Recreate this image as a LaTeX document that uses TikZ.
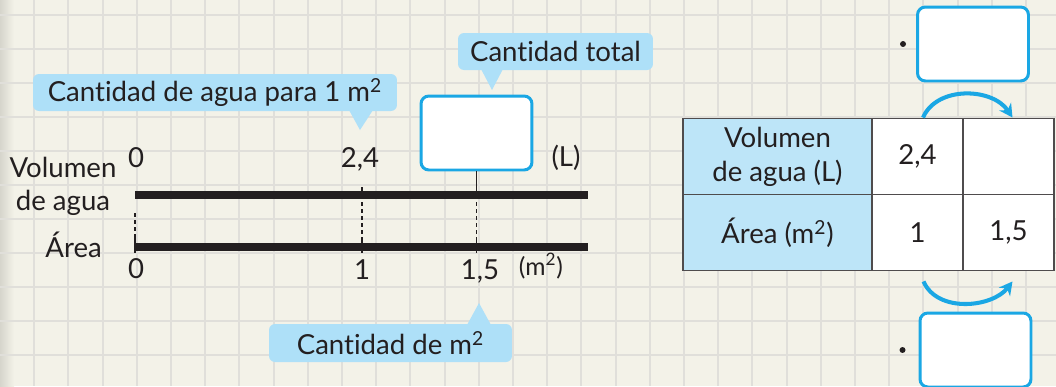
\documentclass[tikz,border=0pt]{standalone}
\usepackage{fontspec}
\setmainfont{Lato}[Ligatures={NoCommon}]
\usetikzlibrary{arrows.meta}

\definecolor{paper}{HTML}{F3F2E8}
\definecolor{gridgray}{HTML}{E0DFDA}
\definecolor{bubbleblue}{HTML}{AEE0F8}
\definecolor{headblue}{HTML}{BDE5F8}
\definecolor{frameblue}{HTML}{1AA7E4}
\definecolor{ink}{HTML}{231F20}

\begin{document}
\begin{tikzpicture}[x=0.02cm, y=-0.02cm,
    every node/.style={font=\fontsize{15.7}{19.3}\selectfont, text=ink},
    gridline/.style={gridgray, line width=1.1pt},
    bubble/.style={fill=bubbleblue, rounded corners=3.4pt, inner sep=0pt},
    answer/.style={draw=frameblue, fill=white, line width=1.7pt, rounded corners=4.5pt,
                   minimum width=2.22cm, minimum height=1.48cm},
    axis/.style={ink, line width=4pt},
    guide/.style={ink, line width=0.7pt, dash pattern=on 2.3pt off 1.7pt},
    tick/.style={ink, line width=0.8pt},
    cell/.style={draw=ink!80, line width=1.1pt, fill=white, minimum width=1.82cm,
                 minimum height=1.52cm, align=center, inner sep=0pt},
    hcell/.style={cell, fill=headblue, minimum width=3.78cm},
    jump/.style={frameblue, line width=2.3pt, -{Stealth[length=7.5pt, width=8pt]}}
]
    \clip (0,0) rectangle (1056,386);
    \fill[paper] (0,0) rectangle (1056,386);
    \shade[left color=black!12!paper, right color=paper] (0,0) rectangle (14,386);
    \foreach \i in {1,...,30} \draw[gridline] (\i*34.2,0) -- (\i*34.2,386);
    \foreach \j in {0,...,11} \draw[gridline] (0,15+\j*34) -- (1056,15+\j*34);

    % speech bubbles
    \fill[bubbleblue] (349,110) -- (360,130) -- (373,110) -- cycle;
    \node[bubble, minimum width=7.28cm, minimum height=0.74cm] (perunit) at (215,92.5)
        {Cantidad de agua para 1 m\textsuperscript{2}};
    \fill[bubbleblue] (481,69) -- (492,90) -- (503,69) -- cycle;
    \node[bubble, minimum width=3.9cm, minimum height=0.74cm] (total) at (555.5,51.5)
        {Cantidad total};
    \fill[bubbleblue] (467,325) -- (479,303) -- (491,325) -- cycle;
    \node[bubble, minimum width=4.86cm, minimum height=0.76cm] (area) at (390.5,343)
        {Cantidad de m\textsuperscript{2}};

    % double number line
    \node[answer] (tot) at (476.5,133) {};
    \coordinate (v0) at (135,195);
    \coordinate (v1) at (588,195);
    \coordinate (a0) at (135,247);
    \coordinate (a1) at (588,247);
    \draw[axis] (v0) -- (v1);
    \draw[axis] (a0) -- (a1);
    \draw[guide] (135,213) -- (135,237);
    \draw[tick] (362,187) -- (362,195);
    \draw[tick] (tot.south) -- (476.5,195);
    \foreach \x in {362,476.5} \draw[guide] (\x,195) -- (\x,237);
    \foreach \x in {135,362,476.5} \draw[tick] (\x,237) -- (\x,253);

    \node[anchor=base] (volA) at (63,177) {Volumen};
    \node[anchor=base] (volB) at (63,210) {de agua};
    \node[anchor=base east] (arealbl) at (108,257) {Área};
    \node[anchor=base] (vzero) at (136,167) {0};
    \node[anchor=base] (vval) at (360,167) {2,4};
    \node[anchor=base] (vunit) at (566,166) {(L)};
    \node[anchor=base] (azero) at (136,278) {0};
    \node[anchor=base] (aone) at (362,279) {1};
    \node[anchor=base] (aval) at (480,279) {1,5};
    \node[anchor=base, font=\fontsize{14}{17}\selectfont] (aunit) at (541,275) {(m\textsuperscript{2})};

    % table
    \node[hcell] (h1) at (777.5,156.5) {Volumen\\de agua (L)};
    \node[cell] (c1) at (917.5,156.5) {2,4};
    \node[cell] (c2) at (1008.5,156.5) {};
    \node[hcell] (h2) at (777.5,232.5) {Área (m\textsuperscript{2})};
    \node[cell] (d1) at (917.5,232.5) {1};
    \node[cell] (d2) at (1008.5,232.5) {1,5};

    \node[answer] (ansT) at (973,44) {};
    \node[answer] (ansB) at (975.5,350) {};
    \fill[ink] ([xshift=-0.26cm]ansT.west) circle (1.7pt);
    \fill[ink] ([xshift=-0.32cm]ansB.west) circle (1.7pt);

    \draw[jump] ([xshift=0.11cm]c1.north) .. controls +(14,-32) and +(-20,-30) .. ([shift={(4,0)}]c2.north);
    \draw[jump] ([shift={(6,10)}]d1.south) .. controls +(14,32) and +(-20,26) .. ([shift={(4,10)}]d2.south);
\end{tikzpicture}
\end{document}
